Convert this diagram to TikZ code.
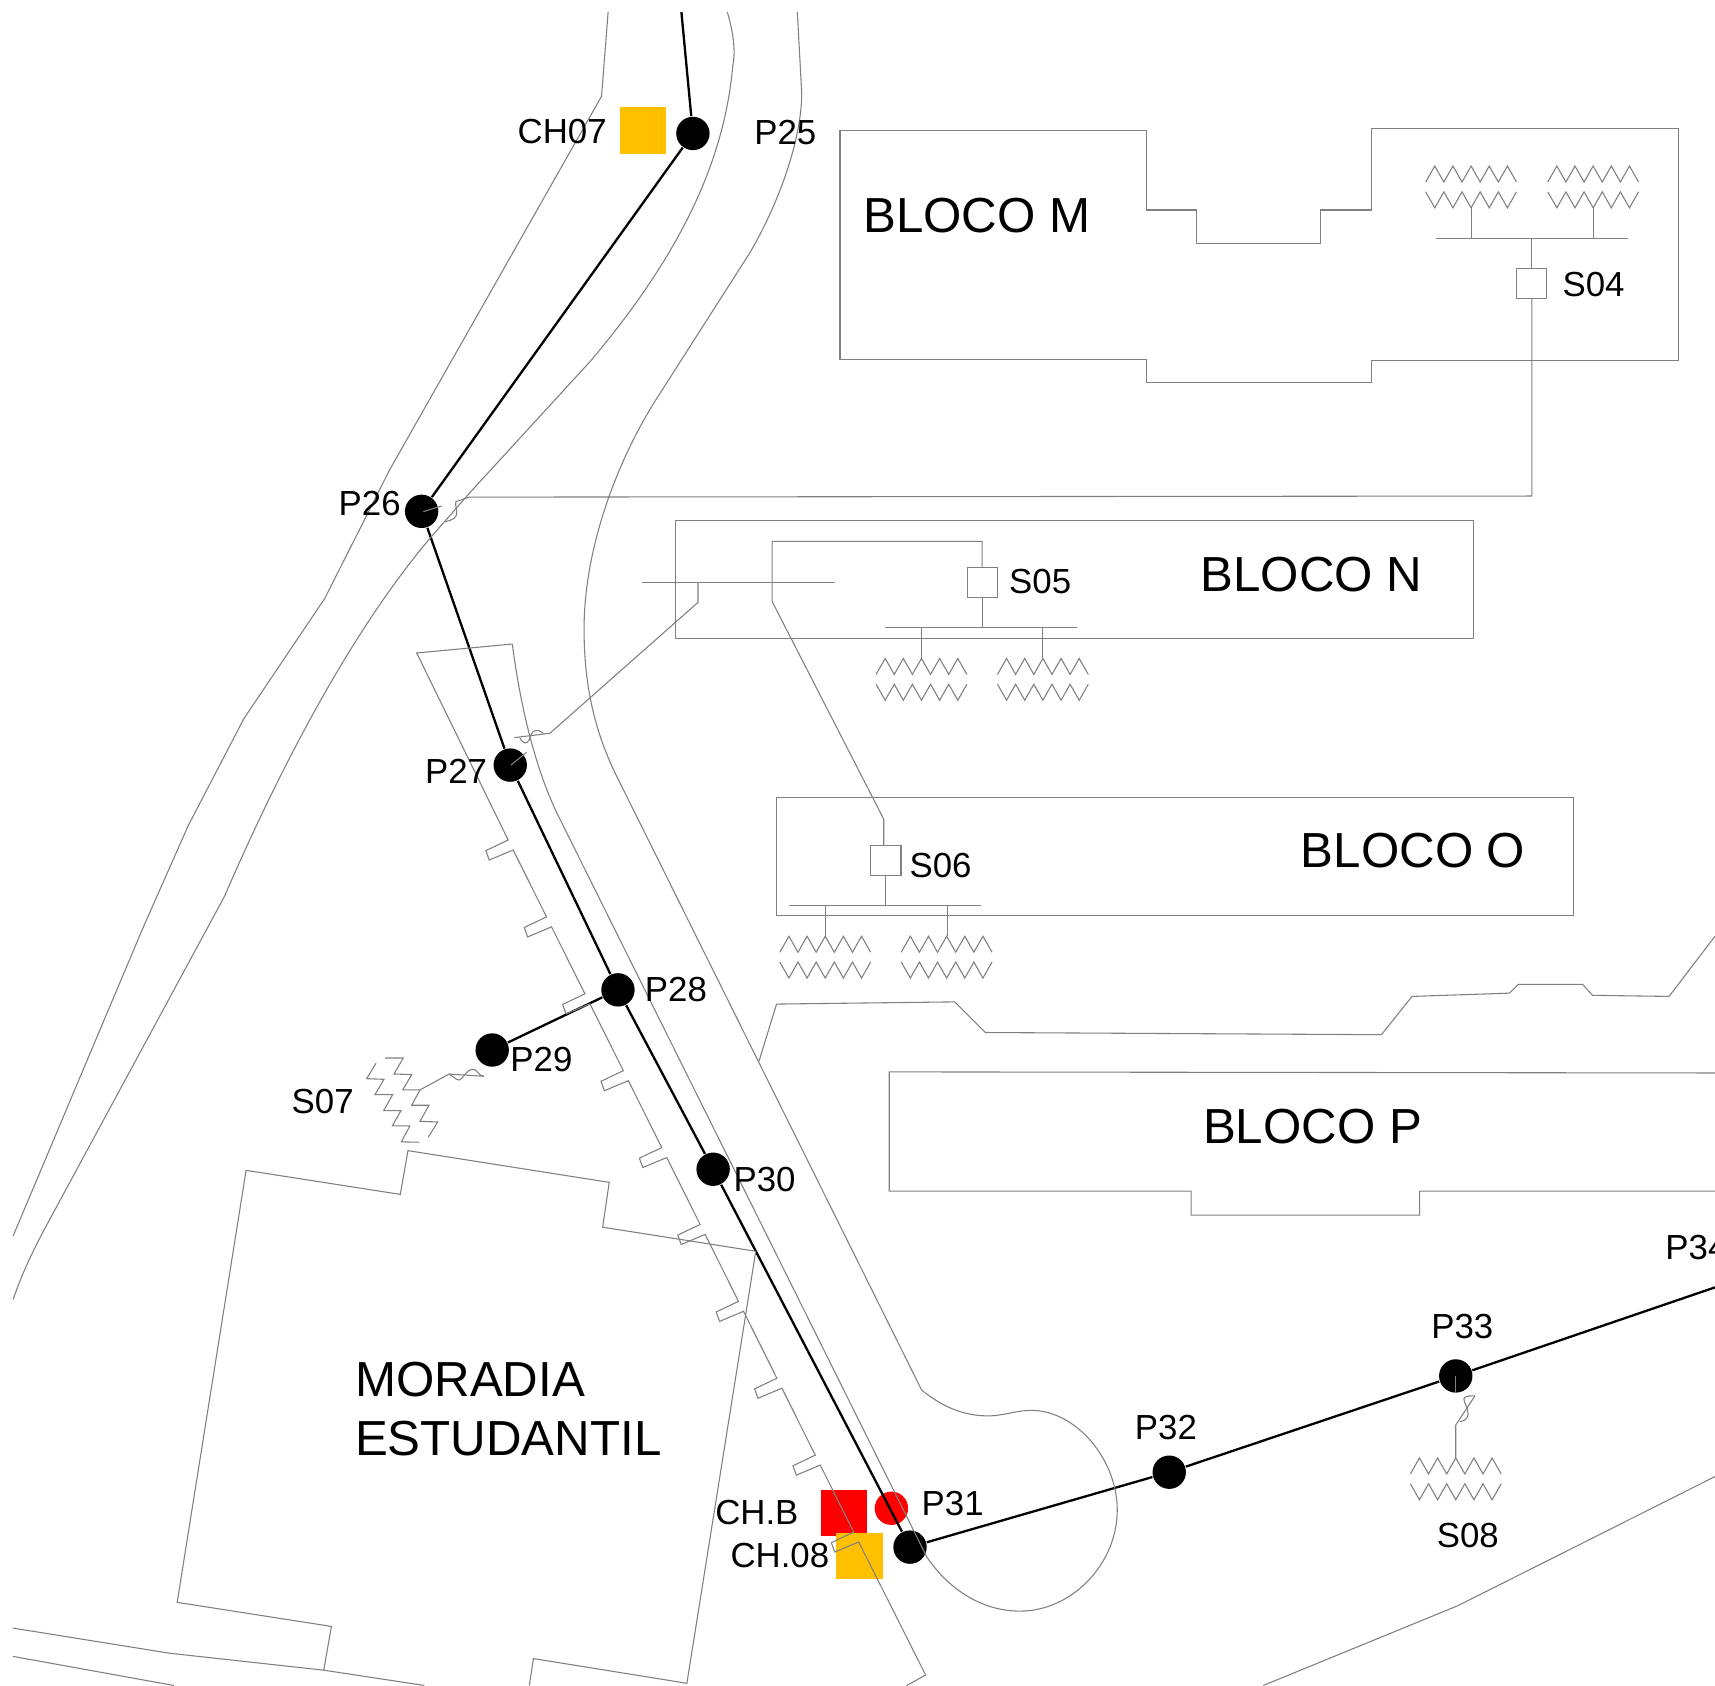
\documentclass[tikz,border=0pt]{standalone}
\usepackage{fontspec}
\setmainfont{Liberation Sans}
\definecolor{ambar}{HTML}{FFC000}
\definecolor{vermelho}{HTML}{FF0000}
\definecolor{cinza}{HTML}{808080}

\begin{document}
\begin{tikzpicture}[x=0.01cm,y=-0.01cm,
 fio/.style={draw=cinza,line width=.28pt},
 rede/.style={draw=black,line width=.6pt},
 poste/.style={circle,fill=black,inner sep=0pt,minimum size=3.05mm},
 chave/.style={inner sep=0pt,minimum size=4.25mm},
 trafo/.style={fio,inner sep=0pt,minimum size=2.75mm},
 rot/.style={inner sep=0pt,font=\fontsize{9.05}{11}\selectfont},
 bloco/.style={inner sep=0pt,align=left,font=\fontsize{12.8}{15.4}\selectfont},
 pics/lamps/.style={code={
   \draw[fio] (-41.5,14.6) \foreach \k in {-2,...,2} {-- ({\k*16.6},0) -- ({\k*16.6+8.3},14.6)};
   \draw[fio] (-41.5,23.6) \foreach \k in {-2,...,2} {-- ({\k*16.6},38.2) -- ({\k*16.6+8.3},23.6)};
 }}]
\useasboundingbox (0,0) rectangle (1568,1541);
\clip (0,0) rectangle (1568,1541);

\node[chave,fill=ambar] (ch07) at (588,119.5) {};
\node[chave,fill=vermelho] (chb) at (771.5,1383.3) {};
\node[chave,fill=ambar] (ch08) at (785.7,1422.4) {};
\node[poste,fill=vermelho] (p31b) at (815,1379) {};

\coordinate (topo) at (623,11);
\coordinate (fim) at (1568,1177);
\node[poste] (p25) at (633.5,122) {};
\node[poste] (p26) at (385.5,467.5) {};
\node[poste] (p27) at (466.5,699.5) {};
\node[poste] (p28) at (565,905) {};
\node[poste] (p29) at (450,960) {};
\node[poste] (p30) at (652,1069) {};
\node[poste] (p31) at (832,1414.5) {};
\node[poste] (p32) at (1069,1346) {};
\node[poste] (p33) at (1331,1258) {};
\draw[rede] (topo) -- (p25) -- (p26) -- (p27) -- (p28) -- (p30) -- (p31) -- (p32) -- (p33) -- (fim);
\draw[rede] (p28) -- (p29);

\draw[fio] (556,11) -- (550,88) -- (356,430) -- (297,547) -- (223,657) -- (172,755) -- (130,850) -- (12,1130);
\draw[fio] (665,11) .. controls (672,35) and (672,50) .. (670,60) .. controls (662,150) and (620,235) .. (540,330) -- (430,450) -- (395,490)
  .. controls (335,560) and (270,670) .. (205,820) -- (40,1125) .. controls (28,1148) and (20,1165) .. (12,1188);
\draw[fio] (729,11) -- (733,85) .. controls (733,130) and (710,190) .. (685,232) -- (600,365) .. controls (565,420) and (534,500) .. (534,575) .. controls (534,630) and (545,670) .. (562,706) -- (842.6,1270.8);
\draw[fio] (842.6,1270.8) .. controls (860,1285) and (880,1295) .. (905,1294.5) .. controls (920,1294) and (930,1289) .. (945,1289.5) .. controls (985,1291) and (1021.5,1335) .. (1021.5,1380.5) .. controls (1021.5,1430) and (980,1473) .. (932.5,1473) .. controls (895,1473) and (865,1450) .. (847.2,1423.2) -- (510,745);
\draw[fio] (468.4,588.8) .. controls (475,640) and (488,700) .. (510,745);
\draw[fio] (468.4,588.8) -- (381,597) -- (464.6,768)
  \foreach \k in {1,...,9} {-- ++(-20.4,9.7) -- ++(3.1,8.6) -- ++(21.9,-9.2) -- ++(30.5,61.2)}
  -- ++(-20.4,9.7) -- ++(3.1,8.6) -- ++(21.9,-9.2) -- (846.3,1531.4) -- (829,1541);
\draw[fio] (694,970) -- (710,918) -- (873,916) -- (901,944) -- (1263,946) -- (1291,911) -- (1380,908) -- (1388,900) -- (1447,900) -- (1456,910) -- (1526,911) -- (1568,856);
\draw[fio] (1155,1541) -- (1333,1468) -- (1568,1350);

\draw[fio] (768,119) -- (1048,119) -- (1048,192) -- (1094,192) -- (1094,223) -- (1207,223) -- (1207,192) -- (1254,192) -- (1254,117.5) -- (1535,117.5) -- (1535,330) -- (1254,330) -- (1254,350) -- (1048,350) -- (1048,329) -- (768,329) -- cycle;
\draw[fio] (618,476) rectangle (1347,584);
\draw[fio] (710,729) rectangle (1439,837);
\draw[fio] (1568,981) -- (813,980) -- (813,1089) -- (1089,1089) -- (1089,1111) -- (1298,1111) -- (1298,1089) -- (1568,1089);
\draw[fio] (691,1144) -- (551,1122) -- (557,1081) -- (373,1052) -- (366,1092) -- (225,1070) -- (162,1465) -- (303,1487) -- (296,1527) -- (388,1541);
\draw[fio] (691,1144) -- (628,1539) -- (487.7,1516.4) -- (484,1541);
\draw[fio] (11.8,1488.5) -- (155,1511.5) -- (296,1527);
\draw[fio] (11.8,1514.4) -- (159,1541);

\node[trafo] (s04) at (1400.6,259) {};
\node[trafo] (s05) at (898,532.5) {};
\node[trafo] (s06) at (810,787) {};
\draw[fio] (s04.south) -- (1400.6,453.5) -- (429,454.5) -- (416.9,458.6) .. controls (415,465) and (424,474) .. (406.8,476.9);
\draw[fio] (387,467.8) -- (403.8,462.6);
\draw[fio] (s04.north) -- (1400.6,218);
\draw[fio] (1312.6,218) -- (1488,218);
\draw[fio] (1345,218) -- (1345,190);
\draw[fio] (1456.6,218) -- (1456.6,190);
\pic[rotate=180] at (1345,190) {lamps};
\pic[rotate=180] at (1456.6,190) {lamps};

\draw[fio] (s05.north) -- (898,495) -- (706,495) -- (706,550) -- (808,749) -- (808,773);
\draw[fio] (s05.south) -- (898,574);
\draw[fio] (809,574) -- (985,574);
\draw[fio] (842.5,574) -- (842.5,602);
\draw[fio] (953.5,574) -- (953.5,602);
\pic at (842.5,602) {lamps};
\pic at (953.5,602) {lamps};

\draw[fio] (s06.south) -- (810,828);
\draw[fio] (721,828) -- (897,828);
\draw[fio] (754.5,828) -- (754.5,856);
\draw[fio] (866,828) -- (866,856);
\pic at (754.5,856) {lamps};
\pic at (865.5,856) {lamps};

\draw[fio] (587.3,532.7) -- (763,532.7);
\draw[fio] (638.2,532.7) -- (638.2,550.7) -- (502.8,670.4) -- (470.2,674.4);
\draw[fio] (475.4,675) .. controls (478,680) and (482,681) .. (484,676) .. controls (486,668) and (490,665) .. (496.8,670.4);
\draw[fio] (467.2,699.4) -- (481.5,687.8);

\draw[fio] (352,967.3) -- (368.7,967.3) -- (360.2,981.9) -- (376.4,982.5) -- (368.2,996.5) -- (384,996.5) -- (376.4,1010.5) -- (392.2,1010.5) -- (384,1025.2) -- (400.2,1025.8) -- (391.6,1039.7);
\draw[fio] (343.8,972.1) -- (335.2,986.2) -- (351.1,986.8) -- (342.8,1000.8) -- (359,1000.8) -- (350.8,1015.4) -- (366.6,1015.4) -- (358.7,1029.4) -- (374.8,1029.4) -- (366.9,1044) -- (383.1,1044.3);
\draw[fio] (384,996.5) -- (410.5,982) -- (442.5,984);
\draw[fio] (410.5,982) .. controls (416,985) and (419,990) .. (422,986) .. controls (426,981) and (430,976) .. (434,978) .. controls (437,980) and (439,984) .. (442.5,984);

\draw[fio] (p33.center) -- (1331,1273.6);
\pic at (1331,1333) {lamps};
\draw[fio] (1331,1333) -- (1331,1302.8) -- (1348.5,1276.3);
\draw[fio] (1334.8,1299.8) .. controls (1346,1298) and (1342,1288) .. (1339,1282) .. controls (1337,1277) and (1340,1276) .. (1348.5,1276.3);

\node[rot] (tch07) at (514,120) {CH07};
\node[rot] (tp25) at (718,121) {P25};
\node[rot] (tp26) at (338,460) {P26};
\node[rot] (tp27) at (417,705) {P27};
\node[rot] (tp28) at (618,905) {P28};
\node[rot] (tp29) at (495,969) {P29};
\node[rot] (tp30) at (699,1078) {P30};
\node[rot] (tp31) at (871,1375) {P31};
\node[rot] (tp32) at (1066,1305) {P32};
\node[rot] (tp33) at (1337,1213) {P33};
\node[rot,anchor=west] (tp34) at (1522,1141) {P34};
\node[rot] (ts04) at (1457,260) {S04};
\node[rot] (ts05) at (951,532) {S05};
\node[rot] (ts06) at (860,791) {S06};
\node[rot] (ts07) at (295,1007) {S07};
\node[rot] (ts08) at (1342,1404) {S08};
\node[rot] (tchb) at (692,1383) {CH.B};
\node[rot] (tch08) at (713,1422) {CH.08};
\node[bloco] (blm) at (893,197) {BLOCO M};
\node[bloco] (bln) at (1199,525) {BLOCO N};
\node[bloco] (blo) at (1292,778) {BLOCO O};
\node[bloco] (blp) at (1200,1030) {BLOCO P};
\node[bloco,anchor=west] (mor) at (324,1288) {MORADIA\\ESTUDANTIL};
\end{tikzpicture}
\end{document}
